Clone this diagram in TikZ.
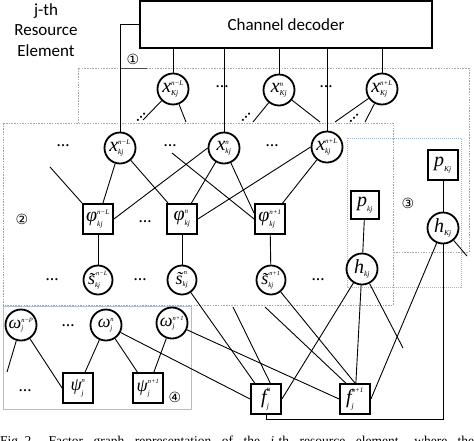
\documentclass[tikz,border=0pt]{standalone}
\usepackage{fontspec}
\setmainfont{Liberation Serif}
\newfontfamily\calib{Carlito}
\newfontfamily\dejavu{DejaVu Sans}
\usetikzlibrary{calc}
\newcommand{\lb}[3]{$\mbox{\fontsize{20}{20}\selectfont\itshape #1}^{\mbox{\fontsize{7}{7}\selectfont\itshape #2}}_{\mbox{\fontsize{7.5}{7.5}\selectfont\itshape #3}}$}
\newcommand{\lbs}[3]{$\mbox{\fontsize{18}{18}\selectfont\itshape #1}^{\mbox{\fontsize{6.5}{6.5}\selectfont\itshape #2}}_{\mbox{\fontsize{7}{7}\selectfont\itshape #3}}$}
\tikzset{
 var/.style={circle,draw,line width=1.8pt,minimum size=31pt,inner sep=0pt},
 fac/.style={rectangle,draw,line width=1.8pt,minimum size=30pt,inner sep=0pt},
 edge/.style={line width=0.9pt},
 dts/.style={font=\fontsize{13}{13}\selectfont\bfseries},
 num/.style={font=\dejavu\fontsize{14}{14}\selectfont},
 boxa/.style={draw=gray!70,line width=0.6pt,dash pattern=on 1.5pt off 1.2pt},
 boxw/.style={boxa,fill=white},
 boxb/.style={draw={rgb,255:red,165;green,180;blue,205},line width=0.6pt,dash pattern=on 1pt off 1pt},
 boxc/.style={draw={rgb,255:red,175;green,190;blue,212},line width=0.7pt},
}
\begin{document}
\begin{tikzpicture}[x=1pt,y=-1pt]
\useasboundingbox (0,0) rectangle (474,440);
% box 1
\draw[boxa] (78,68) rectangle (469,252);
% top variable nodes
\node[var] (xK1) at (173,89) {\lb{x}{n−L}{Kj}};
\node[var] (xK2) at (279,90) {\lb{x}{n}{Kj}};
\node[var] (xK3) at (382,89) {\lb{x}{n+L}{Kj}};
\node[dts] (d1) at (222,87) {\ldots};
\node[dts] (d2) at (326,87) {\ldots};
% stubs from top nodes
\coordinate (a1) at (143,120); \coordinate (a2) at (186,122);
\coordinate (a3) at (253,122); \coordinate (a4) at (320,122);
\coordinate (a5) at (335,122); \coordinate (a6) at (365,122);
\draw[edge] (xK1) -- (a1); \draw[edge] (xK1) -- (a2);
\draw[edge] (xK2) -- (a3); \draw[edge] (xK2) -- (a4);
\draw[edge] (xK3) -- (a5); \draw[edge] (xK3) -- (a6);
\node[dts,rotate=45] (e1) at (141,117) {\ldots};
\node[dts,rotate=45] (e2) at (246,117) {\ldots};
\node[dts,rotate=45] (e3) at (354,118) {\ldots};
% box 2 (white, over box 1)
\draw[boxw] (3,123) rectangle (393,305);
% box 3, box 4
\draw[boxb] (347,138) rectangle (461,287);
\draw[boxc] (3,306) rectangle (191,409);
% decoder
\node[fac,minimum width=292pt,minimum height=47pt] (dec) at (286,24.5) {\calib\fontsize{17}{17}\selectfont Channel decoder};
\node[align=center,font=\calib\fontsize{17}{20.5}\selectfont] (title) at (46,30) {j-th\\Resource\\Element};
% label markers
\node[num] (n1) at (133,59) {①};
\coordinate (m1) at (120,68); \coordinate (m2) at (147,68);
\draw[line width=0.8pt,gray!60!black] (m1) -- (m2);
\node[num] (n2) at (22,219) {②};
\node[num] (n3) at (408,203) {③};
\node[num] (n4) at (175,397) {④};
% middle variables
\node[var] (xk1) at (120,148) {\lb{x}{n−L}{kj}};
\node[var] (xk2) at (224,148) {\lb{x}{n}{kj}};
\node[var] (xk3) at (327,147) {\lb{x}{n+L}{kj}};
\node[dts] (d3) at (63,146) {\ldots};
\node[dts] (d4) at (170,146) {\ldots};
\node[dts] (d5) at (272,146) {\ldots};
% factors phi
\node[fac] (phi1) at (98,219) {\lb{φ}{n−L}{kj}};
\node[fac] (phi2) at (182,219) {\lb{φ}{n}{kj}};
\node[fac] (phi3) at (270,219) {\lb{φ}{n+1}{kj}};
\node[dts] (d6) at (145,222) {\ldots};
% s tilde
\node[var,minimum size=29pt] (s1) at (98,280) {\lbs{\~{s}}{\,n−L}{kj}};
\node[var,minimum size=29pt] (s2) at (182,280) {\lbs{\~{s}}{\,n}{kj}};
\node[var,minimum size=29pt] (s3) at (271,280) {\lbs{\~{s}}{\,n+1}{kj}};
\node[dts] (d7) at (52,280) {\ldots};
\node[dts] (d8) at (140,280) {\ldots};
\node[dts] (d9) at (318,280) {\ldots};
% channel
\node[fac,minimum width=28pt,minimum height=28pt] (pk) at (365,205) {\lb{p}{}{kj}};
\node[var] (hk) at (362,269) {\lb{h}{}{kj}};
\node[fac] (pK) at (443,165) {\lb{p}{}{Kj}};
\node[var] (hK) at (443,228) {\lb{h}{}{Kj}};
% omega / psi
\node[var] (w1) at (21,325) {\lbs{ω}{n−P}{j}};
\node[var] (w2) at (106,325) {\lbs{ω}{n}{j}};
\node[var] (w3) at (172,323) {\lbs{ω}{n+1}{j}};
\node[dts] (d10) at (68,326) {\ldots};
\node[fac] (psi1) at (78,388) {\lbs{ψ}{n}{j}};
\node[fac] (psi2) at (148,388) {\lbs{ψ}{n+1}{j}};
\node[dts] (d11) at (25,391) {\ldots};
% f factors
\node[fac] (f1) at (266,399) {\lb{f}{n}{j}};
\node[fac] (f2) at (355,399) {\lb{f}{n+1}{j}};
% decoder connections
\draw[edge] (dec.west) -| (xk1);
\draw[edge] (xK1 |- dec.south) -- (xK1);
\draw[edge] (xk2 |- dec.south) -- (xk2);
\draw[edge] (xK2 |- dec.south) -- (xK2);
\draw[edge] (xk3 |- dec.south) -- (xk3);
\draw[edge] (xK3 |- dec.south) -- (xK3);
% middle edges
\coordinate (c1) at (50,167);
\coordinate (c2) at (172,153);
\draw[edge] (c1) -- (phi1.north west);
\draw[edge] (xk1) -- (phi1);
\draw[edge] (xk1) -- (phi2);
\draw[edge] (phi1.east) -- (xk2.west);
\draw[edge] (xk2) -- (phi2);
\draw[edge] (xk2) -- (phi3.160);
\draw[edge] (c2) -- (phi3.west);
\draw[edge] (phi2.east) -- (xk3.west);
\draw[edge] (xk3) -- (phi3);
\draw[edge] (phi1) -- (s1);
\draw[edge] (phi2) -- (s2);
\draw[edge] (phi3) -- (s3);
\draw[edge] (pk) -- (hk);
\draw[edge] (pK) -- (hK);
% bottom edges
\coordinate (c3) at (233,307);
\coordinate (c4) at (265,307);
\coordinate (c5) at (403,348);
\coordinate (c6) at (467,256);
\coordinate (c7) at (443,419);
\coordinate (c8) at (7,372);
\draw[edge] (s2) -- (f1);
\draw[edge] (c3) -- (f1.75);
\draw[edge] (c4) -- (f2.120);
\draw[edge] (s3) -- (f2.north);
\draw[edge] (hk) -- (f1.east);
\draw[edge] (hk) -- (f2);
\draw[edge] (hk) -- (c5);
\draw[edge] (hK) -- (f2.east);
\draw[edge] (hK) -- (c6);
\draw[edge] (hK) -- (c7) -| (f1.south);
\draw[edge] (w1) -- (c8);
\draw[edge] (w1) -- (psi1.west);
\draw[edge] (w2) -- (psi1);
\draw[edge] (w2) -- (psi2);
\draw[edge] (w3) -- (psi2);
\draw[edge] (w2) -- (f1.west);
\draw[edge] (w3) -- (f2.west);
% caption (cut off at the bottom edge)
\node[anchor=base west,inner sep=0pt] (cap) at (0,445) {\fontsize{13.5}{13.5}\selectfont\makebox[474pt][s]{Fig.\kern3pt2.\kern14pt Factor graph representation of the {\itshape j}-th resource element, where the}};
\end{tikzpicture}
\end{document}
